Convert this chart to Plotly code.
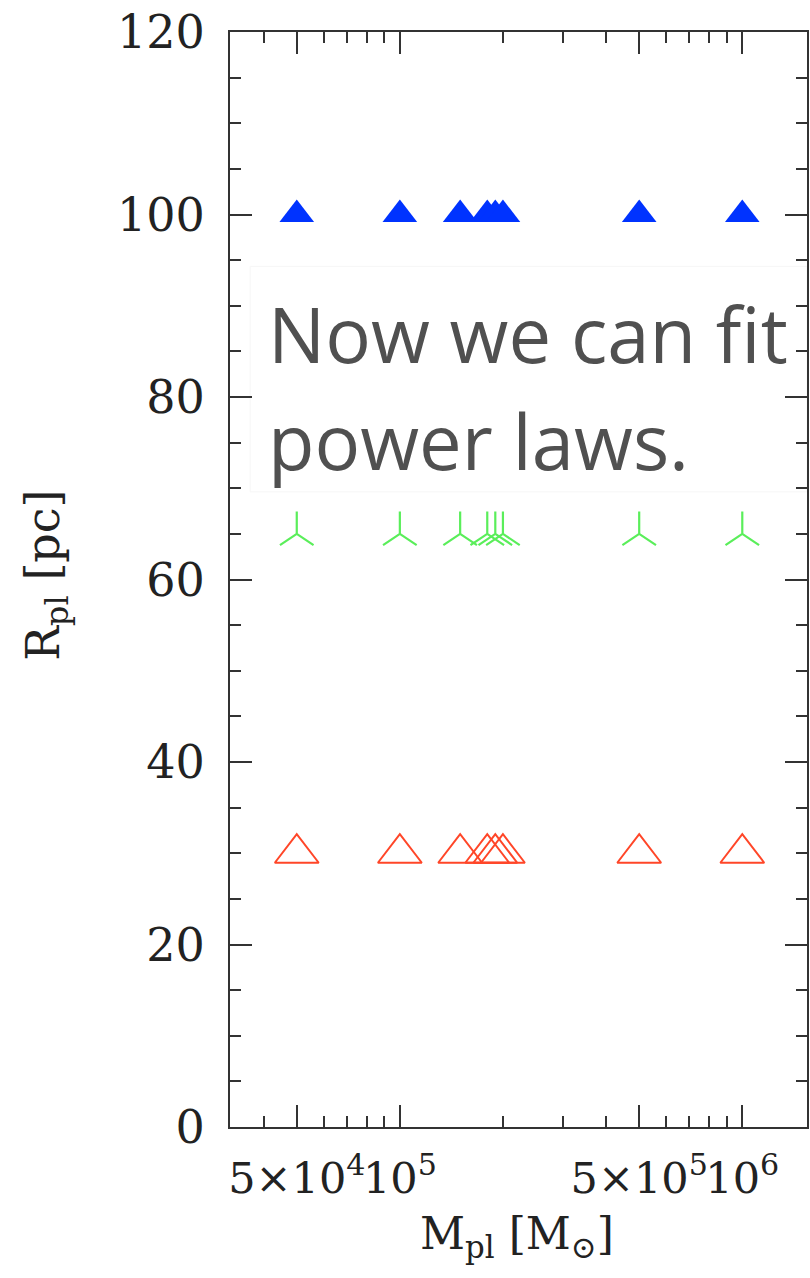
import plotly.graph_objects as go

# ---- data ----
mass = [5e4, 1e5, 1.5e5, 1.8e5, 1.9e5, 2.0e5, 5e5, 1e6]
r_blue = [100, 100, 100, 100, 100, 100, 100, 100]
r_green = [65, 65, 65, 65, 65, 65, 65, 65]
r_red = [30, 30, 30, 30, 30, 30, 30, 30]

x_tickvals = [5e4, 1e5, 5e5, 1e6]
x_ticktext = ["5×10<sup>4</sup>", "10<sup>5</sup>", "5×10<sup>5</sup>", "10<sup>6</sup>"]
x_minor = [4e4, 6e4, 7e4, 8e4, 9e4, 2e5, 3e5, 4e5, 6e5, 7e5, 8e5, 9e5]
y_tickvals = [0, 20, 40, 60, 80, 100, 120]
y_ticktext = ["0", "20", "40", "60", "80", "100", "120"]

AX = "#333333"
SERIF = "DejaVu Serif"

fig = go.Figure()
fig.add_trace(go.Scatter(
    x=mass, y=r_red, mode="markers",
    marker=dict(symbol="triangle-up-open", size=38, color="rgb(255,70,40)",
                line=dict(width=2, color="rgb(255,70,40)")),
    showlegend=False))
fig.add_trace(go.Scatter(
    x=mass, y=r_green, mode="markers",
    marker=dict(symbol="y-up", size=28, color="rgb(90,238,90)",
                line=dict(width=2.2, color="rgb(90,238,90)")),
    showlegend=False))
fig.add_trace(go.Scatter(
    x=mass, y=r_blue, mode="markers",
    marker=dict(symbol="triangle-up", size=30, color="rgb(0,51,255)",
                line=dict(width=0)),
    showlegend=False))

fig.update_layout(
    width=810, height=1278,
    margin=dict(l=230, r=1, t=32, b=151),
    paper_bgcolor="white", plot_bgcolor="white",
    font=dict(family=SERIF, size=44, color="#222222"),
    xaxis=dict(
        type="log", range=[4.504, 6.189],
        tickmode="array", tickvals=x_tickvals, ticktext=x_ticktext,
        tickangle=0, ticklabelstandoff=12,
        ticks="inside", ticklen=22, tickwidth=2, tickcolor=AX,
        showline=True, linewidth=2, linecolor=AX, mirror="ticks",
        showgrid=False, zeroline=False,
        tickfont=dict(family=SERIF, size=43, color="#222222"),
        minor=dict(tickmode="array", tickvals=x_minor, ticks="inside",
                   ticklen=11, tickwidth=2, tickcolor=AX, showgrid=False),
    ),
    yaxis=dict(
        range=[0, 120],
        tickmode="array", tickvals=y_tickvals, ticktext=y_ticktext,
        ticks="inside", ticklen=22, tickwidth=2, tickcolor=AX,
        showline=True, linewidth=2, linecolor=AX, mirror="ticks",
        showgrid=False, zeroline=False, ticklabelstandoff=14,
        tickfont=dict(family=SERIF, size=46, color="#222222"),
        minor=dict(dtick=5, tick0=0, ticks="inside",
                   ticklen=11, tickwidth=2, tickcolor=AX, showgrid=False),
    ),
    shapes=[dict(type="rect", xref="paper", yref="paper",
                 x0=0.035, x1=1.0, y0=0.58, y1=0.786,
                 fillcolor="rgba(255,255,255,0.92)",
                 line=dict(color="rgb(246,246,246)", width=1), layer="below")],
    annotations=[
        dict(text="Now we can fit", xref="paper", yref="y", x=0.063, y=87.0,
             xanchor="left", yanchor="middle", showarrow=False,
             font=dict(family="Open Sans", size=76, color="rgb(80,80,80)")),
        dict(text="power laws.", xref="paper", yref="y", x=0.063, y=75.2,
             xanchor="left", yanchor="middle", showarrow=False,
             font=dict(family="Open Sans", size=76, color="rgb(80,80,80)")),
        dict(text="R<sub>pl</sub> [pc]", xref="paper", yref="paper",
             x=-0.3195, y=0.504, xanchor="center", yanchor="middle",
             textangle=-90, showarrow=False,
             font=dict(family=SERIF, size=46, color="#222222")),
        dict(text="M<sub>pl</sub> [M<sub>⊙</sub>]", xref="paper", yref="paper",
             x=0.497, y=-0.1, xanchor="center", yanchor="middle",
             showarrow=False,
             font=dict(family=SERIF, size=44, color="#222222")),
    ],
)

fig.write_html("out.html")
